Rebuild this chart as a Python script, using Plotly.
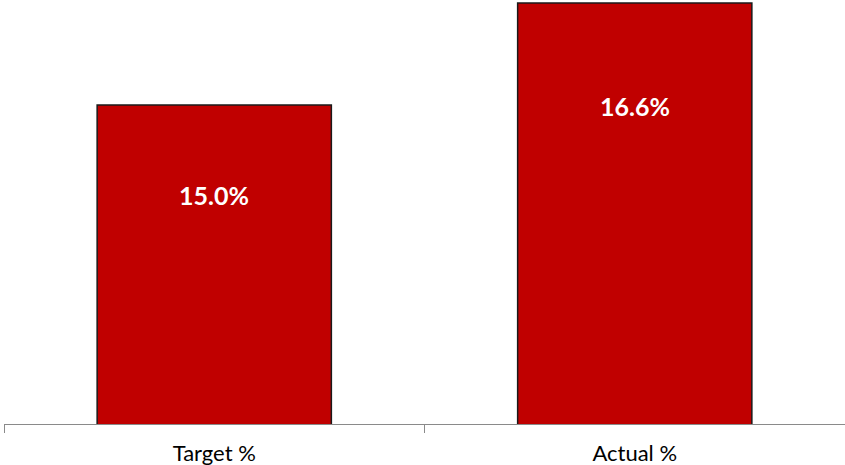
import plotly.graph_objects as go

categories = ["Target %", "Actual %"]
values = [15.0, 16.6]
label_texts = [f"{v:.1f}%" for v in values]

BAR_COLOR = "#C00000"
label_shift = [-73, -86]

fig = go.Figure()
fig.add_trace(go.Bar(
    x=categories, y=values,
    marker=dict(color=BAR_COLOR, line=dict(color="#1a1a1a", width=1.5)),
    width=0.557,
    hoverinfo="skip",
))

for cat, v, t, s in zip(categories, values, label_texts, label_shift):
    fig.add_annotation(
        x=cat, y=v, text=t, showarrow=False,
        yanchor="top", yshift=s,
        font=dict(family="Lato", size=25, color="white", weight="bold"),
    )

fig.update_layout(
    width=845, height=465,
    margin=dict(l=4, r=0, t=0, b=41, autoexpand=False),
    paper_bgcolor="white", plot_bgcolor="white",
    showlegend=False,
    xaxis=dict(
        showline=True, linecolor="#8a8a8a", linewidth=1,
        ticks="outside", tickson="boundaries", ticklen=8,
        tickcolor="#8a8a8a", tickwidth=1,
        tickfont=dict(family="Lato", size=22, color="black"),
        ticklabelstandoff=10,
        automargin=False,
        showgrid=False, zeroline=False,
        range=[-0.5, 1.5],
    ),
    yaxis=dict(
        range=[10.0, 16.647], visible=False, showgrid=False,
    ),
)

fig.write_html("out.html", config={"displayModeBar": False},
               post_script="document.body.style.margin='0';")
